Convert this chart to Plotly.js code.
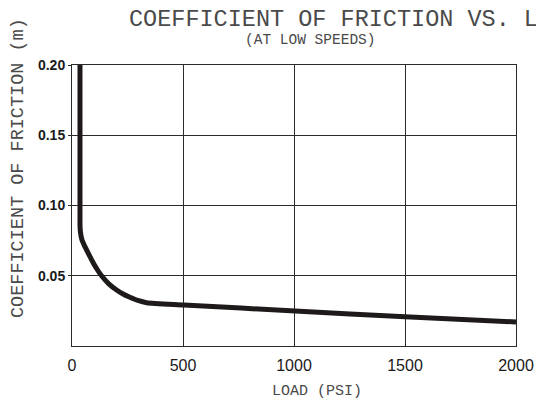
<!DOCTYPE html>
<html>
<head>
<meta charset="utf-8">
<script src="https://cdn.plot.ly/plotly-3.0.1.min.js"></script>
<style>html,body{margin:0;padding:0;background:#fff;}#chart{width:536px;height:401px;}</style>
</head>
<body>
<div id="chart"></div>
<script>
// Data
const loadPsi = [36, 36, 38, 45, 59, 77, 96, 115, 134, 167, 201, 230, 261, 297, 336, 504, 1005, 1500, 2000];
const friction = [0.200, 0.0861, 0.0811, 0.0754, 0.0705, 0.0648, 0.0591, 0.0541, 0.0498, 0.0441, 0.0399, 0.0370, 0.0347, 0.0324, 0.0308, 0.0292, 0.0249, 0.0208, 0.0171];
const xTickVals = [0, 500, 1000, 1500, 2000];
const xTickText = ['0', '500', '1000', '1500', '2000'];
const yTickVals = [0.05, 0.10, 0.15, 0.20];
const yTickText = ['0.05', '0.10', '0.15', '0.20'];
const titleText = 'COEFFICIENT OF FRICTION VS. LOAD';
const subtitleText = '(AT LOW SPEEDS)';
const xTitleText = 'LOAD (PSI)';
const yTitleText = 'COEFFICIENT OF FRICTION (m)';

const mono = '"Courier New", "Liberation Mono", monospace';
const sans = '"Liberation Sans", Arial, sans-serif';

const trace = {
  x: loadPsi,
  y: friction,
  type: 'scatter',
  mode: 'lines',
  line: {color: '#1e1a1a', width: 5, shape: 'spline', smoothing: 0.6},
  hoverinfo: 'skip'
};

const layout = {
  width: 536,
  height: 401,
  margin: {l: 72, r: 20, t: 65, b: 55},
  paper_bgcolor: '#ffffff',
  plot_bgcolor: '#ffffff',
  showlegend: false,
  xaxis: {
    range: [0, 2000],
    tickvals: xTickVals,
    ticktext: xTickText,
    showgrid: true,
    gridcolor: '#2a2a2a',
    gridwidth: 1,
    showline: true,
    mirror: true,
    linecolor: '#2a2a2a',
    linewidth: 1,
    zeroline: false,
    ticks: '',
    ticklabelstandoff: 5,
    tickfont: {family: sans, size: 16, color: '#1a1a1a'},
    fixedrange: true
  },
  yaxis: {
    range: [0, 0.2],
    tickvals: yTickVals,
    ticktext: yTickText,
    showgrid: true,
    gridcolor: '#2a2a2a',
    gridwidth: 1,
    showline: true,
    mirror: true,
    linecolor: '#2a2a2a',
    linewidth: 1,
    zeroline: false,
    ticks: 'outside',
    ticklen: 3,
    tickcolor: '#2a2a2a',
    tickfont: {family: sans, size: 14, color: '#1a1a1a', weight: 'bold'},
    fixedrange: true
  },
  annotations: [
    {text: titleText, xref: 'paper', yref: 'paper', x: (127 - 72) / 444, y: 1 + (65 - 19) / 281,
     xanchor: 'left', yanchor: 'middle', showarrow: false,
     font: {family: mono, size: 23.5, color: '#4a4a4a'}},
    {text: subtitleText, xref: 'paper', yref: 'paper', x: (310 - 72) / 444, y: 1 + (65 - 40) / 281,
     xanchor: 'center', yanchor: 'middle', showarrow: false,
     font: {family: mono, size: 14.5, color: '#4a4a4a'}},
    {text: xTitleText, xref: 'paper', yref: 'paper', x: (317 - 72) / 444, y: -(391 - 346) / 281,
     xanchor: 'center', yanchor: 'middle', showarrow: false,
     font: {family: mono, size: 15, color: '#4a4a4a'}},
    {text: yTitleText, xref: 'paper', yref: 'paper', x: (18 - 72) / 444, y: (346 - 168) / 281,
     xanchor: 'center', yanchor: 'middle', showarrow: false, textangle: -90,
     font: {family: mono, size: 18.5, color: '#4a4a4a'}}
  ]
};

Plotly.newPlot('chart', [trace], layout, {displayModeBar: false, staticPlot: true});
</script>
</body>
</html>
